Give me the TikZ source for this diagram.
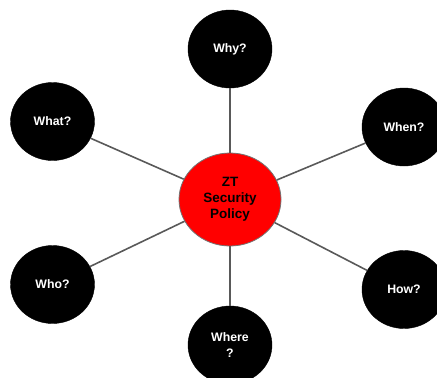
\documentclass[tikz,border=0pt]{standalone}
\usepackage{fontspec}
\setmainfont{Liberation Sans}
\usetikzlibrary{shapes.geometric}
\tikzset{
  hub/.style={draw=black!55, line width=0.8pt, ellipse, fill=red, minimum width=102pt, minimum height=93pt, inner sep=0pt, align=center, font=\fontsize{13.5}{16}\selectfont\bfseries},
  qblob/.style={draw=black, ellipse, fill=black, text=white, minimum width=84pt, minimum height=78pt, inner sep=0pt, align=center, font=\fontsize{12.3}{16}\selectfont\bfseries},
  spoke/.style={draw=black!65, line width=1.6pt},
}
\begin{document}
\begin{tikzpicture}[x=1pt,y=-1pt]
\useasboundingbox (0,0) rectangle (437,378);

\node[hub] (pol) at (230,199.5) {ZT\\Security\\Policy};

\node[qblob] (why) at (230,49) {Why?};
\node[qblob] (what) at (52.5,121.5) {What?};
\node[qblob] (when) at (404,127) {When?};
\node[qblob] (who) at (52.5,284.5) {Who?};
\node[qblob] (how) at (404,289.5) {How?};
\node[qblob] (where) at (230,345) {Where\\?};

\draw[spoke] (pol) -- (why);
\draw[spoke] (pol) -- (what);
\draw[spoke] (pol) -- (when);
\draw[spoke] (pol) -- (who);
\draw[spoke] (pol) -- (how);
\draw[spoke] (pol) -- (where);

\end{tikzpicture}
\end{document}
